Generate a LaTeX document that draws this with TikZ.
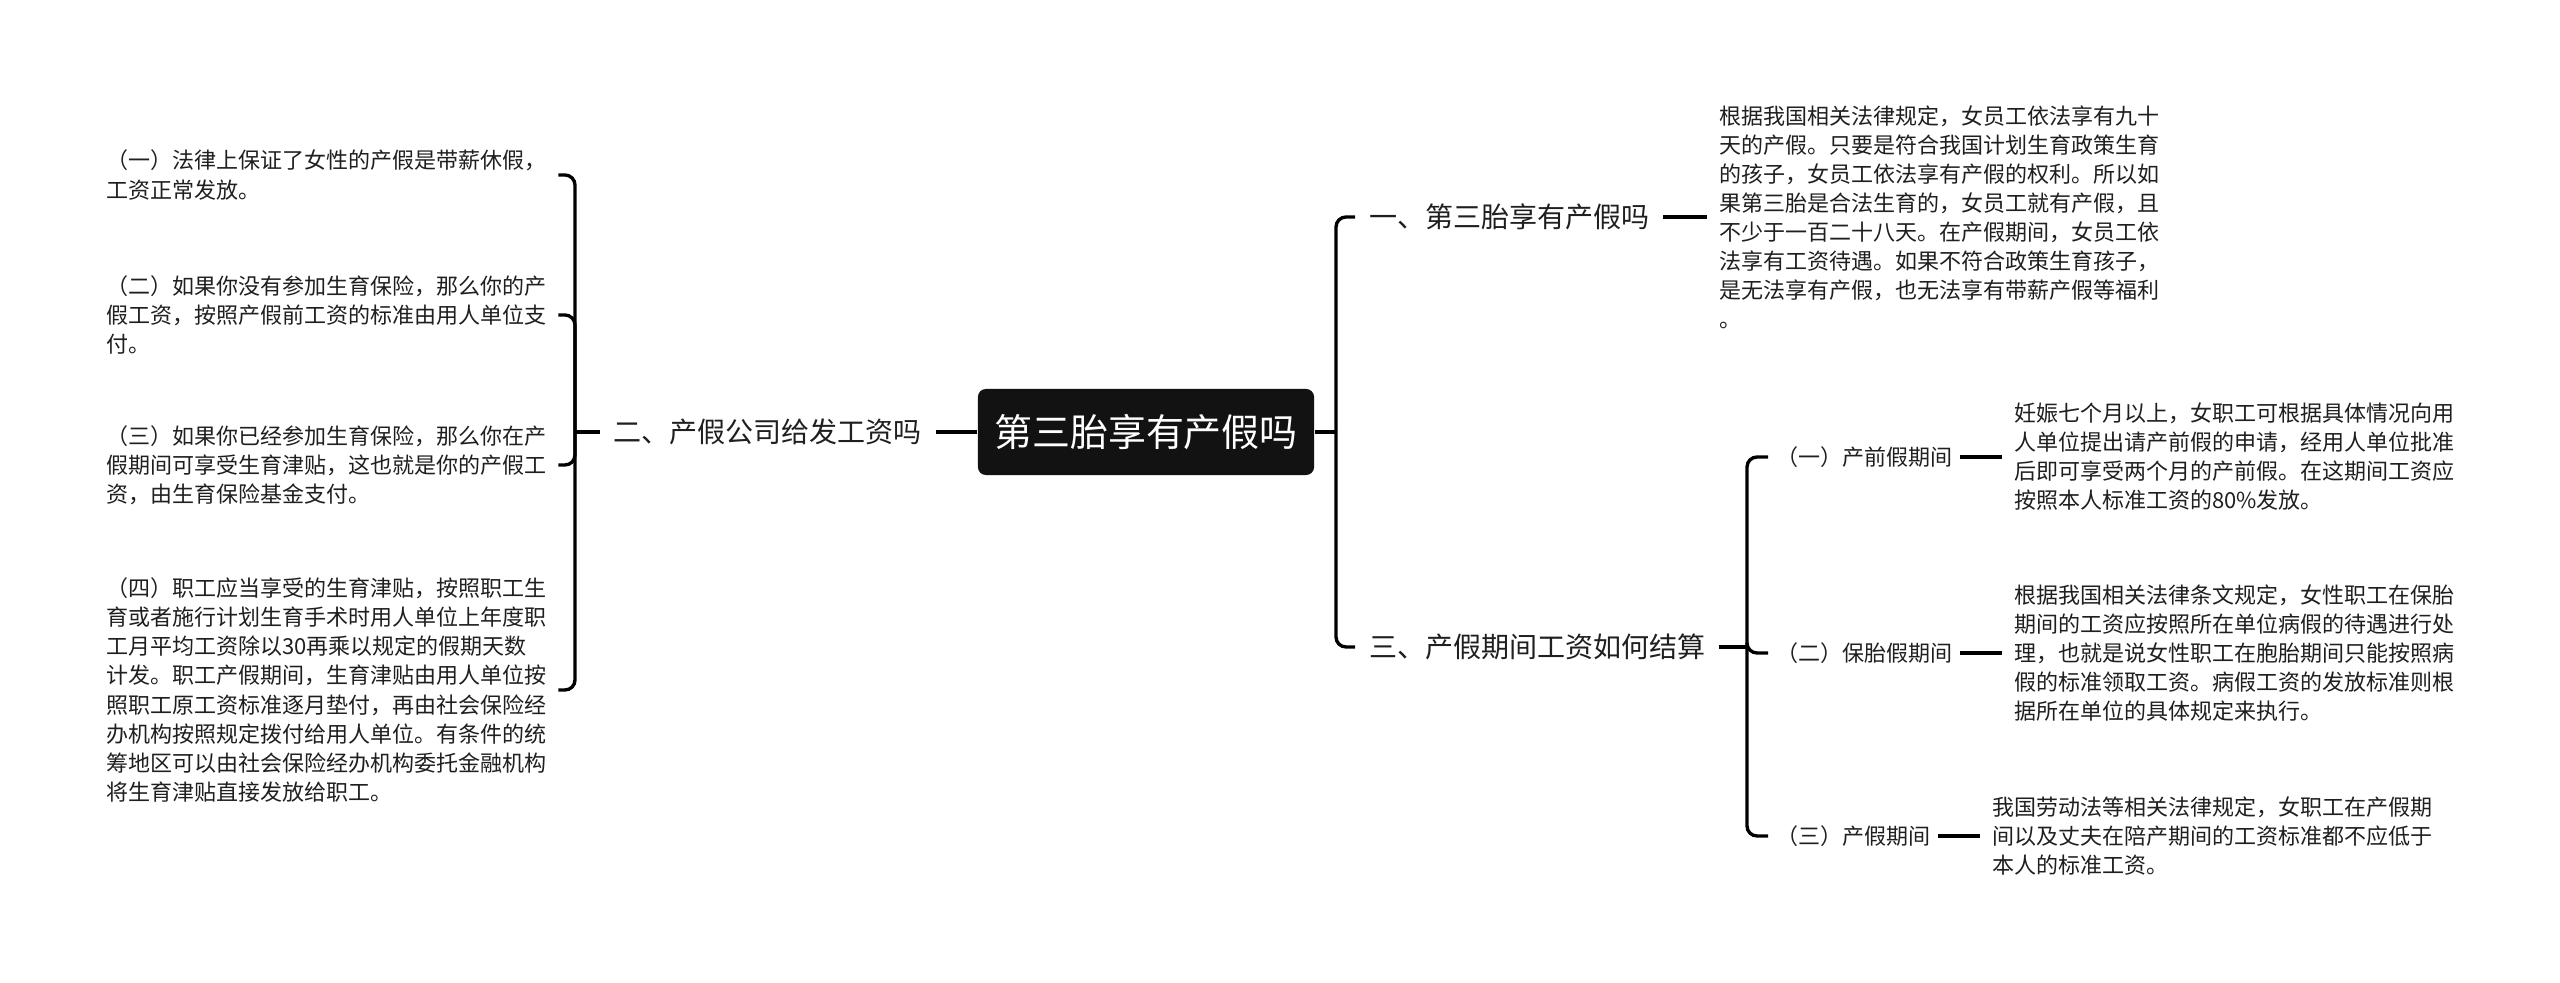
\documentclass[tikz,border=0pt]{standalone}
\usepackage{fontspec}
\setmainfont{Noto Sans CJK SC}
\begin{document}
\begin{tikzpicture}[x=0.01cm,y=-0.01cm,
  conn/.style={line width=0.95pt, black, rounded corners=0.1cm},
  rootbox/.style={fill=black!93, text=white, rounded corners=0.08cm, minimum width=3.36cm, minimum height=0.86cm, inner sep=0pt, font=\fontsize{10.8pt}{13pt}\selectfont},
  topic/.style={inner sep=0pt, outer xsep=0.14cm, text=black!88, font=\fontsize{7.97pt}{9.5pt}\selectfont},
  subtopic/.style={inner sep=0pt, outer xsep=0.08cm, text=black!88, font=\fontsize{6.26pt}{8.25pt}\selectfont},
  leaf/.style={inner sep=0pt, outer xsep=0.12cm, align=left, text=black!88, font=\fontsize{6.26pt}{8.25pt}\selectfont},
]
\useasboundingbox (0,0) rectangle (2560,983);
\fill[white] (0,0) rectangle (2560,983);

% root
\node[rootbox] (root) at (1146,432) {第三胎享有产假吗};

% left branch
\node[topic, anchor=east] (L) at (936,432) {二、产假公司给发工资吗};
\coordinate (LJ) at (575,432);
\draw[conn] (root.west) -- (L.east);
\draw[conn] (L.west) -- (LJ);

\node[leaf, anchor=west] (L1) at (94,175) {（一）法律上保证了女性的产假是带薪休假，\\工资正常发放。};
\node[leaf, anchor=west] (L2) at (94,315) {（二）如果你没有参加生育保险，那么你的产\\假工资，按照产假前工资的标准由用人单位支\\付。};
\node[leaf, anchor=west] (L3) at (94,465) {（三）如果你已经参加生育保险，那么你在产\\假期间可享受生育津贴，这也就是你的产假工\\资，由生育保险基金支付。};
\node[leaf, anchor=west] (L4) at (94,690) {（四）职工应当享受的生育津贴，按照职工生\\育或者施行计划生育手术时用人单位上年度职\\工月平均工资除以30再乘以规定的假期天数\\计发。职工产假期间，生育津贴由用人单位按\\照职工原工资标准逐月垫付，再由社会保险经\\办机构按照规定拨付给用人单位。有条件的统\\筹地区可以由社会保险经办机构委托金融机构\\将生育津贴直接发放给职工。};
\foreach \n in {L1,L2,L3,L4} \draw[conn] (LJ) |- (\n.east);

% right branch
\coordinate (RJ) at (1336,432);
\draw[conn] (root.east) -- (RJ);
\node[topic, anchor=west] (R1) at (1355,217) {一、第三胎享有产假吗};
\node[topic, anchor=west] (R3) at (1355,647) {三、产假期间工资如何结算};
\draw[conn] (RJ) |- (R1.west);
\draw[conn] (RJ) |- (R3.west);

\node[leaf, anchor=west] (B1) at (1707,217) {根据我国相关法律规定，女员工依法享有九十\\天的产假。只要是符合我国计划生育政策生育\\的孩子，女员工依法享有产假的权利。所以如\\果第三胎是合法生育的，女员工就有产假，且\\不少于一百二十八天。在产假期间，女员工依\\法享有工资待遇。如果不符合政策生育孩子，\\是无法享有产假，也无法享有带薪产假等福利\\。};
\draw[conn] (R1.east) -- (R1.east -| B1.west);

\coordinate (RJ2) at (1747,647);
\draw[conn] (R3.east) -- (RJ2);
\node[subtopic, anchor=west] (S1) at (1768,457) {（一）产前假期间};
\node[subtopic, anchor=west] (S2) at (1768,653) {（二）保胎假期间};
\node[subtopic, anchor=west] (S3) at (1768,836) {（三）产假期间};
\foreach \n in {S1,S2,S3} \draw[conn] (RJ2) |- (\n.west);

\node[leaf, anchor=west] (T1) at (2002,457) {妊娠七个月以上，女职工可根据具体情况向用\\人单位提出请产前假的申请，经用人单位批准\\后即可享受两个月的产前假。在这期间工资应\\按照本人标准工资的80\%发放。};
\node[leaf, anchor=west] (T2) at (2002,653) {根据我国相关法律条文规定，女性职工在保胎\\期间的工资应按照所在单位病假的待遇进行处\\理，也就是说女性职工在胞胎期间只能按照病\\假的标准领取工资。病假工资的发放标准则根\\据所在单位的具体规定来执行。};
\node[leaf, anchor=west] (T3) at (1980,836) {我国劳动法等相关法律规定，女职工在产假期\\间以及丈夫在陪产期间的工资标准都不应低于\\本人的标准工资。};
\draw[conn] (S1.east) -- (T1.west);
\draw[conn] (S2.east) -- (T2.west);
\draw[conn] (S3.east) -- (T3.west);
\end{tikzpicture}
\end{document}
